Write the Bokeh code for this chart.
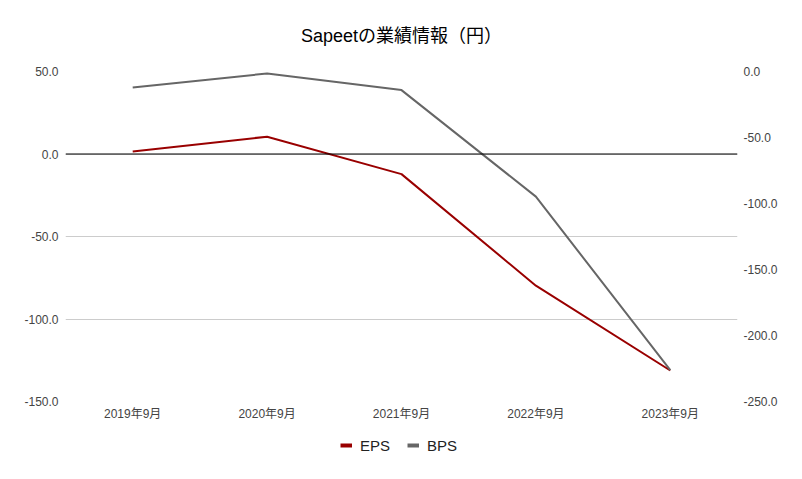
from bokeh.plotting import figure
from bokeh.layouts import column
from bokeh.models import (FactorRange, Range1d, LinearAxis, NumeralTickFormatter,
                          Span, Legend, LegendItem, FixedTicker, Label)
from bokeh.embed import file_html
from bokeh.resources import INLINE

periods = ["2019年9月", "2020年9月", "2021年9月", "2022年9月", "2023年9月"]
eps = [1.5, 10.5, -12.2, -79.8, -131.2]
bps = [-12.1, -1.5, -14.1, -94.8, -226.3]
left_ticks = [-150, -100, -50, 0, 50]
right_ticks = [-250, -200, -150, -100, -50, 0]
series_names = ["EPS", "BPS"]
chart_title = "Sapeetの業績情報（円）"

FONT = "Liberation Sans, Noto Sans CJK JP"
EPS_COLOR = "#990000"
BPS_COLOR = "#666666"

# ---- title strip ----
tf = figure(width=786, height=61, x_range=Range1d(0, 1), y_range=Range1d(0, 1),
            x_axis_type=None, y_axis_type=None, output_backend="svg",
            toolbar_location=None, min_border=0, title=None)
tf.outline_line_color = None
tf.grid.visible = False
tf.add_layout(Label(x=0.5, y=(61 - 35) / 61, text=chart_title, text_align="center",
                    text_baseline="middle", text_font=FONT, text_font_size="18px",
                    text_color="#000000"))

# ---- main chart ----
p = figure(width=786, height=367, x_range=FactorRange(*periods),
           y_range=Range1d(-150, 50), output_backend="svg", toolbar_location=None,
           min_border_left=65, min_border_right=49, min_border_top=10,
           min_border_bottom=27, title=None)
p.extra_y_ranges = {"bps": Range1d(-250, 0)}
p.outline_line_color = None
p.background_fill_color = "white"

def style_axis(ax):
    ax.axis_line_color = None
    ax.major_tick_line_color = None
    ax.minor_tick_line_color = None
    ax.major_tick_out = 0
    ax.major_tick_in = 0
    ax.major_label_text_font = FONT
    ax.major_label_text_color = "#444444"

p.yaxis.ticker = FixedTicker(ticks=left_ticks)
p.yaxis.formatter = NumeralTickFormatter(format="0.0")
p.yaxis.major_label_text_font_size = "12px"
p.yaxis.major_label_standoff = 7
style_axis(p.yaxis[0])

right = LinearAxis(y_range_name="bps", ticker=FixedTicker(ticks=right_ticks),
                   formatter=NumeralTickFormatter(format="0.0"))
right.major_label_text_font_size = "12px"
right.major_label_standoff = 6
style_axis(right)
p.add_layout(right, "right")

p.xaxis.major_label_text_font_size = "12px"
p.xaxis.major_label_standoff = 5
style_axis(p.xaxis[0])

p.xgrid.visible = False
p.ygrid.grid_line_color = "#cccccc"
p.ygrid.grid_line_width = 1

zero = Span(location=0, dimension="width", line_color="#000000", line_width=1)
p.add_layout(zero)

p.line(x=periods, y=eps, line_color=EPS_COLOR, line_width=2)
p.line(x=periods, y=bps, line_color=BPS_COLOR, line_width=2, y_range_name="bps")

# ---- legend strip (series drawn out of view, only their swatches show) ----
lf = figure(width=786, height=35, x_range=FactorRange(*periods),
            y_range=Range1d(1000, 1001), x_axis_type=None, y_axis_type=None,
            output_backend="svg", toolbar_location=None, min_border=0, title=None)
lf.outline_line_color = None
lf.grid.visible = False
le = lf.line(x=periods, y=eps, line_color=EPS_COLOR, line_width=4)
lb = lf.line(x=periods, y=bps, line_color=BPS_COLOR, line_width=4)

legend = Legend(items=[LegendItem(label=series_names[0], renderers=[le]),
                       LegendItem(label=series_names[1], renderers=[lb])],
                orientation="horizontal", location=(275, 8),
                glyph_width=12, glyph_height=20, label_height=20,
                label_standoff=8, spacing=17,
                padding=0, margin=0, border_line_color=None,
                background_fill_alpha=0, label_text_font=FONT,
                label_text_font_size="15px", label_text_color="#222222")
lf.add_layout(legend)

layout = column(tf, p, lf, spacing=0)
open("out.html", "w").write(file_html(layout, INLINE))
